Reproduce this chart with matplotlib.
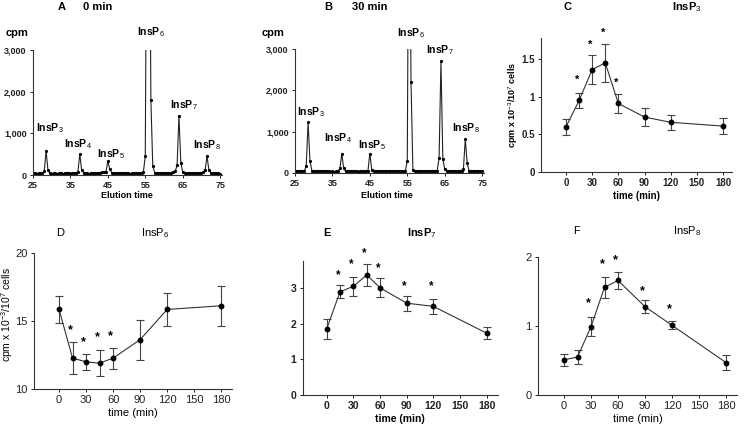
import numpy as np
import matplotlib
matplotlib.use("Agg")
import matplotlib.pyplot as plt

plt.rcParams['font.family'] = ['Liberation Sans', 'DejaVu Sans']
plt.rcParams['mathtext.fontset'] = 'custom'
plt.rcParams['mathtext.rm'] = 'Liberation Sans'
plt.rcParams['mathtext.bf'] = 'Liberation Sans:bold'

W, H = 745, 430

## chromatograms (fractions every 0.5 min, 25 -> 75)
elution = np.arange(25, 75.5, 0.5)
cpm_0min = [40, 55, 35, 50, 40, 45, 90, 580, 110, 45,
            35, 50, 40, 30, 45, 40, 35, 50, 40, 45,
            35, 40, 50, 45, 80, 500, 120, 60, 45, 40,
            35, 40, 45, 50, 40, 55, 60, 70, 65, 80,
            330, 140, 60, 45, 50, 40, 45, 55, 50, 45,
            40, 45, 35, 40, 50, 45, 40, 45, 50, 80,
            450, 9000, 9000, 1800, 220, 60, 45, 40, 50, 45,
            40, 50, 55, 45, 60, 70, 90, 230, 1420, 300,
            70, 50, 45, 40, 50, 45, 40, 45, 50, 40,
            55, 70, 130, 450, 120, 50, 40, 50, 45, 40, 35]
cpm_30min = [45, 50, 40, 55, 45, 40, 180, 1230, 290, 60,
             45, 40, 50, 45, 40, 45, 50, 40, 45, 35,
             40, 30, 45, 50, 110, 470, 110, 50, 45, 40,
             45, 50, 40, 45, 35, 40, 45, 50, 45, 60,
             470, 80, 50, 45, 40, 50, 45, 40, 45, 50,
             40, 45, 50, 40, 45, 50, 40, 45, 50, 60,
             290, 9000, 2200, 70, 50, 45, 40, 50, 45, 40,
             50, 45, 40, 45, 50, 55, 60, 360, 2700, 350,
             90, 50, 45, 40, 50, 45, 40, 45, 50, 60,
             100, 820, 240, 60, 45, 40, 50, 45, 40, 45, 40]
peak_names = ['InsP$_3$', 'InsP$_4$', 'InsP$_5$', 'InsP$_6$', 'InsP$_7$', 'InsP$_8$']
peak_x_0min = [29.6, 37.0, 45.9, 56.5, 65.3, 71.5]
peak_y_0min = [1130, 745, 505, 3430, 1680, 720]
peak_x_30min = [29.3, 36.5, 45.6, 56.0, 63.8, 70.7]
peak_y_30min = [1480, 850, 680, 3390, 2980, 1090]

## time courses
time_min = [0, 15, 30, 45, 60, 90, 120, 180]
insp3 = [0.60, 0.95, 1.36, 1.45, 0.91, 0.73, 0.66, 0.61]
insp3_err = [0.11, 0.10, 0.19, 0.25, 0.12, 0.12, 0.10, 0.11]
insp3_star_t = [15, 30, 45, 60]
insp3_star_y = [1.23, 1.69, 1.85, 1.18]

insp6 = [15.85, 12.27, 12.0, 11.9, 12.27, 13.63, 15.85, 16.12]
insp6_err = [1.0, 1.2, 0.58, 0.97, 0.78, 1.47, 1.23, 1.48]
insp6_star_t = [15, 30, 45, 60]
insp6_star_y = [14.3, 13.44, 13.8, 13.9]

insp7 = [1.85, 2.89, 3.04, 3.36, 3.0, 2.57, 2.48, 1.73]
insp7_err = [0.27, 0.18, 0.26, 0.30, 0.27, 0.21, 0.22, 0.17]
insp7_star_t = [15, 30, 45, 60, 90, 120]
insp7_star_y = [3.36, 3.66, 3.98, 3.56, 3.05, 3.05]

insp8 = [0.51, 0.55, 0.99, 1.56, 1.66, 1.28, 1.01, 0.47]
insp8_err = [0.085, 0.10, 0.135, 0.15, 0.12, 0.09, 0.06, 0.105]
insp8_star_t = [30, 45, 60, 90, 120]
insp8_star_y = [1.33, 1.89, 1.96, 1.50, 1.25]

fig = plt.figure(figsize=(W / 100, H / 100), dpi=100)
fig.patch.set_facecolor('white')


def add_ax(left, right, top, bottom):
    return fig.add_axes([left / W, 1 - bottom / H, (right - left) / W, (bottom - top) / H])


def ftext(x, y, s, **kw):
    fig.text(x / W, 1 - y / H, s, ha='center', va='center', **kw)


def style(ax, fs, weight):
    for s in ['top', 'right']:
        ax.spines[s].set_visible(False)
    for s in ['left', 'bottom']:
        ax.spines[s].set_linewidth(0.8)
        ax.spines[s].set_color('#333333')
    ax.tick_params(direction='out', length=2.5, width=0.7, labelsize=fs, pad=2, colors='#222222')
    for lab in ax.get_xticklabels() + ax.get_yticklabels():
        lab.set_fontweight(weight)


def chromatogram(ax, cpm, px, py):
    ax.plot(elution, cpm, '-', color='#222222', lw=0.8, marker='o', ms=1.3,
            mfc='black', mec='black')
    ax.set_xlim(25, 75.5)
    ax.set_ylim(0, 3000)
    ax.set_xticks([25, 35, 45, 55, 65, 75])
    ax.set_yticks([0, 1000, 2000, 3000])
    ax.set_yticklabels(['0', '1,000', '2,000', '3,000'])
    style(ax, 6.5, 'bold')
    for name, x, y in zip(peak_names, px, py):
        ax.text(x, y, name, ha='center', va='center', fontsize=7.5,
                fontweight='bold', clip_on=False)


def timecourse(ax, y, err, st, sy, xlim, ylim, yticks, fs, weight):
    ax.errorbar(time_min, y, yerr=err, fmt='-o', color='#333333', lw=0.8, ms=3.2,
                mfc='black', mec='black', ecolor='#444444', elinewidth=0.8,
                capsize=2.6, capthick=0.8)
    for t, v in zip(st, sy):
        ax.text(t - 2.5, v, '*', ha='center', va='center', fontsize=fs + 1,
                fontweight='bold', clip_on=False)
    ax.set_xlim(*xlim)
    ax.set_ylim(*ylim)
    ax.set_xticks([0, 30, 60, 90, 120, 150, 180])
    ax.set_yticks(yticks)
    ax.set_yticklabels([('%g' % v) for v in yticks])
    style(ax, fs, weight)
    ax.set_xlabel('time (min)', fontsize=fs, fontweight=weight, labelpad=2)


# A
axA = add_ax(33, 222, 50, 175)
chromatogram(axA, cpm_0min, peak_x_0min, peak_y_0min)
ftext(62, 7, 'A', fontsize=8, fontweight='bold')
ftext(98, 7, '0 min', fontsize=8, fontweight='bold')
ftext(17, 33, 'cpm', fontsize=8, fontweight='bold')
ftext(127, 196, 'Elution time', fontsize=6.5, fontweight='bold')

# B
axB = add_ax(295, 484, 49, 173)
chromatogram(axB, cpm_30min, peak_x_30min, peak_y_30min)
ftext(328, 7, 'B', fontsize=8, fontweight='bold')
ftext(370, 7, '30 min', fontsize=8, fontweight='bold')
ftext(273, 33, 'cpm', fontsize=8, fontweight='bold')
ftext(387, 196, 'Elution time', fontsize=6.5, fontweight='bold')

# C
axC = add_ax(541, 732, 38, 172)
timecourse(axC, insp3, insp3_err, insp3_star_t, insp3_star_y,
           (-28.7, 190.3), (0, 1.78), [0, 0.5, 1, 1.5], 7, 'bold')
axC.set_ylabel('cpm x 10$^{-3}$/10$^{7}$ cells', fontsize=6.5, fontweight='bold')
axC.yaxis.set_label_coords(-0.11, 0.5)
ftext(567, 7, 'C', fontsize=8, fontweight='bold')
ftext(687, 7, 'InsP$_3$', fontsize=8, fontweight='bold')

# D
axD = add_ax(34, 232, 253, 389)
timecourse(axD, insp6, insp6_err, insp6_star_t, insp6_star_y,
           (-27.8, 192), (10, 20), [10, 15, 20], 8, 'normal')
axD.set_ylabel('cpm x 10$^{-3}$/10$^{7}$ cells', fontsize=7.5)
axD.yaxis.set_label_coords(-0.095, 0.55)
ftext(60, 233, 'D', fontsize=8)
ftext(155, 233, 'InsP$_6$', fontsize=8)

# E
axE = add_ax(302.7, 498, 261, 395)
timecourse(axE, insp7, insp7_err, insp7_star_t, insp7_star_y,
           (-27, 192.7), (0, 3.75), [0, 1, 2, 3], 7.5, 'bold')
ftext(327, 233, 'E', fontsize=8, fontweight='bold')
ftext(422, 233, 'InsP$_7$', fontsize=8, fontweight='bold')

# F
axF = add_ax(538, 737, 257, 395)
timecourse(axF, insp8, insp8_err, insp8_star_t, insp8_star_y,
           (-28.9, 192.2), (0, 2), [0, 1, 2], 8, 'normal')
ftext(577, 231, 'F', fontsize=8)
ftext(687, 231, 'InsP$_8$', fontsize=8)

fig.savefig('out.png', dpi=100, facecolor='white')
